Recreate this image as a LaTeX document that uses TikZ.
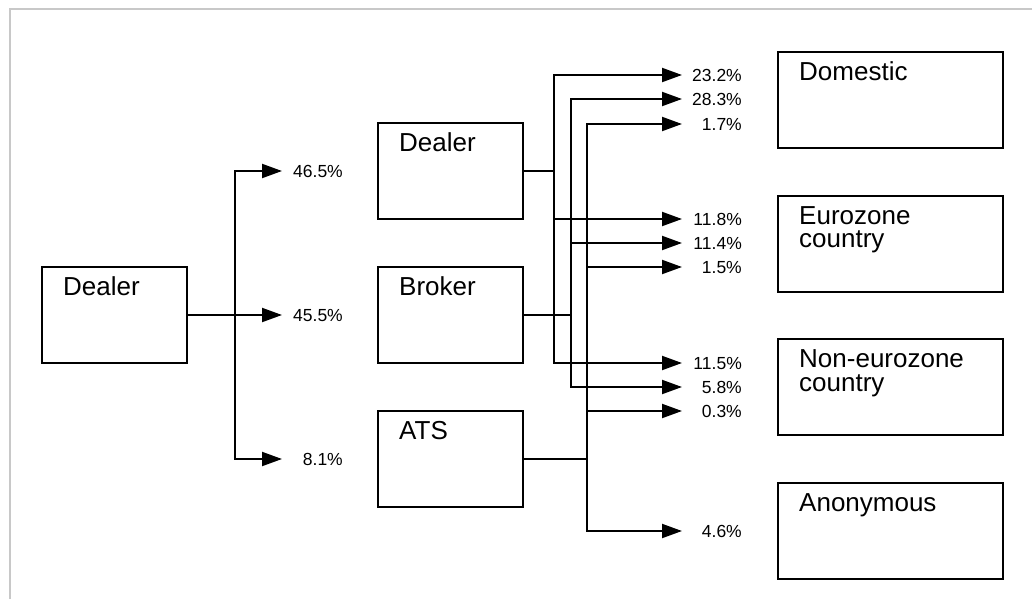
\documentclass[tikz,border=0pt]{standalone}
\usepackage{fontspec}
\setmainfont{Liberation Sans}
\usetikzlibrary{arrows.meta}
\definecolor{framegray}{RGB}{200,200,200}
\begin{document}
\begin{tikzpicture}[x=1pt,y=-1pt,
  box/.style={draw,rectangle,inner sep=0pt,line width=2pt},
  sbox/.style={box,minimum width=145pt,minimum height=96pt},
  wbox/.style={box,minimum width=225pt,minimum height=96pt},
  boxtext/.style={font=\fontsize{26}{23.5}\selectfont},
  tl/.style={label={[anchor=base west,inner sep=0pt,xshift=22pt,yshift=-29.5pt,boxtext]north west:{#1}}},
  pct/.style={anchor=east,inner sep=0pt,font=\fontsize{17.5}{20}\selectfont,text height=12.5pt,text depth=0pt},
  conn/.style={line width=2pt},
  arr/.style={conn,-{Triangle[length=20pt,width=14pt]}}
]
\useasboundingbox (0,0) rectangle (1032,599);
\draw[framegray,line width=2.5pt] (10,599) -- (10,9) -- (1032,9);

% boxes
\node[sbox,tl={Dealer}] (d0) at (114.5,315) {};
\node[sbox,tl={Dealer}] (d1) at (450.5,171) {};
\node[sbox,tl={Broker}] (br) at (450.5,315) {};
\node[sbox,tl={ATS}] (ats) at (450.5,459) {};
\node[wbox,tl={Domestic}] (dom) at (890.5,100) {};
\node[wbox,tl={\vtop{\hbox{Eurozone}\hbox{country}}}] (eur) at (890.5,243.5) {};
\node[wbox,tl={\vtop{\hbox{Non-eurozone}\hbox{country}}}] (neu) at (890.5,387) {};
\node[wbox,tl={Anonymous}] (ano) at (890.5,531) {};

% left tree
\coordinate (jL) at (235,315);
\coordinate (tL1) at (282,171);
\coordinate (tL2) at (282,315);
\coordinate (tL3) at (282,459);
\draw[conn] (d0.east) -- (jL);
\draw[arr] (jL) |- (tL1);
\draw[arr] (jL) -- (tL2);
\draw[arr] (jL) |- (tL3);
\node[pct] (pL1) at (343,171) {46.5\%};
\node[pct] (pL2) at (343,315) {45.5\%};
\node[pct] (pL3) at (343,459) {8.1\%};

% right tips
\foreach \i/\y in {1/75,2/99,3/124,4/219,5/243,6/267,7/363,8/387,9/411,10/531}
  \coordinate (r\i) at (682,\y);

\coordinate (j1) at (554,171);
\coordinate (j2) at (571,315);
\coordinate (j3) at (587,459);

\draw[conn] (d1.east) -- (j1);
\draw[arr] (j1) |- (r1);
\draw[arr] (j1) |- (r4);
\draw[arr] (j1) |- (r7);

\draw[conn] (br.east) -- (j2);
\draw[arr] (j2) |- (r2);
\draw[arr] (j2) |- (r5);
\draw[arr] (j2) |- (r8);

\draw[conn] (ats.east) -- (j3);
\draw[arr] (j3) |- (r3);
\draw[arr] (j3) |- (r6);
\draw[arr] (j3) |- (r9);
\draw[arr] (j3) |- (r10);

\node[pct] (p1) at (742,75) {23.2\%};
\node[pct] (p2) at (742,99) {28.3\%};
\node[pct] (p3) at (742,124) {1.7\%};
\node[pct] (p4) at (742,219) {11.8\%};
\node[pct] (p5) at (742,243) {11.4\%};
\node[pct] (p6) at (742,267) {1.5\%};
\node[pct] (p7) at (742,363) {11.5\%};
\node[pct] (p8) at (742,387) {5.8\%};
\node[pct] (p9) at (742,411) {0.3\%};
\node[pct] (p10) at (742,531) {4.6\%};
\end{tikzpicture}
\end{document}
